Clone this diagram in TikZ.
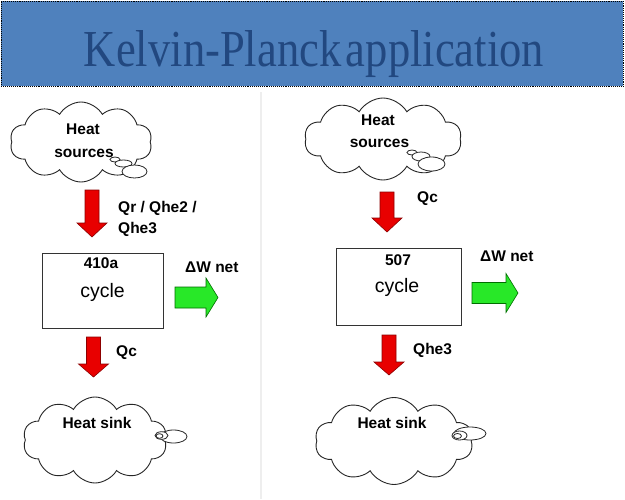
\documentclass[tikz,border=0pt]{standalone}
\usepackage{fontspec}
\setmainfont{Liberation Sans}
\newfontfamily\titlefont{Liberation Serif}
\usetikzlibrary{shapes.symbols}

\definecolor{barblue}{RGB}{79,129,189}
\definecolor{titleblue}{RGB}{34,72,128}
\definecolor{redfill}{RGB}{232,0,0}
\definecolor{redline}{RGB}{140,0,0}
\definecolor{greenfill}{RGB}{40,232,40}
\definecolor{greenline}{RGB}{0,110,0}
\definecolor{divgray}{RGB}{238,238,238}

\newcommand\blockdown[4]{% x, ytop, yhead, ytip
  \filldraw[redarrow] (#1-7,#2) -- (#1+7,#2) -- (#1+7,#3) -- (#1+15,#3) -- (#1,#4)
    -- (#1-15,#3) -- (#1-7,#3) -- cycle;}
\newcommand\blockright[4]{% xleft, xhead, xtip, y
  \filldraw[greenarrow] (#1,#4-10.5) -- (#2,#4-10.5) -- (#2,#4-19.5) -- (#3,#4)
    -- (#2,#4+19.5) -- (#2,#4+10.5) -- (#1,#4+10.5) -- cycle;}

\begin{document}
\begin{tikzpicture}[x=1pt,y=-1pt,
  lbl/.style={font=\fontsize{15.5}{18}\selectfont\bfseries, inner sep=0pt},
  cyc/.style={font=\fontsize{19.5}{22}\selectfont, inner sep=0pt},
  cloudshape/.style={cloud, cloud puffs=10, cloud puff arc=120, draw=black!85,
    line width=0.9pt, fill=white, inner sep=0pt},
  bub/.style={draw=black!85, line width=0.8pt, fill=white},
  cyclebox/.style={draw=black!80, line width=1pt, fill=white, inner sep=0pt},
  redarrow/.style={fill=redfill, draw=redline, line width=0.6pt},
  greenarrow/.style={fill=greenfill, draw=greenline, line width=0.6pt}]
\useasboundingbox (0,0) rectangle (625,499);
\fill[white] (0,0) rectangle (625,499);

% title bar
\node (bar) [draw=black, densely dotted, line width=0.9pt, fill=barblue,
  minimum width=622pt, minimum height=85pt, inner sep=0pt, anchor=north west] at (1,1) {};
\node (title) [anchor=base, inner sep=0pt, text=titleblue] at (314,66)
  {\resizebox{460pt}{36pt}{\titlefont Kelvin-Planck\kern1pt application}};

% divider
\draw[divgray, line width=2pt] (261,92) -- (261,499);

% ---------- left ----------
\node (srcL) [cloudshape, aspect=1.78, minimum width=142pt, minimum height=80pt] at (81,142) {};
\draw[bub] (115,159.5) ellipse (5 and 2.5);
\draw[bub] (123.5,163.5) ellipse (8.5 and 3.5);
\draw[bub] (134.5,171.5) ellipse (12.5 and 6.5);
\node (srcLa) [lbl, anchor=base] at (83,134) {Heat};
\node (srcLb) [lbl, anchor=base] at (84,157) {sources};

\blockdown{92}{190}{223}{237}
\node (qinL1) [lbl, anchor=base west] at (118,212) {Qr / Qhe2 /};
\node (qinL2) [lbl, anchor=base west] at (118,233) {Qhe3};

\node (boxL) [cyclebox, minimum width=121pt, minimum height=75pt] at (102.5,290.5) {};
\node (nameL) [lbl, anchor=base] at (101,268) {410a};
\node (cycL) [cyc, anchor=base] at (102.5,297) {cycle};

\node (wL) [lbl, anchor=base west] at (185,272) {ΔW net};
\blockright{175}{206}{218}{297.5}

\blockdown{93.5}{337}{364}{377}
\node (qoutL) [lbl, anchor=base west] at (116,356) {Qc};

\node (sinkL) [cloudshape, aspect=1.67, minimum width=144pt, minimum height=86pt] at (95,440) {};
\draw[bub] (173.5,436.5) ellipse (13.5 and 6.5);
\draw[bub] (161.5,435.5) ellipse (6.5 and 3.8);
\draw[bub] (159.5,436) ellipse (3.5 and 2.3);
\node (sinkLt) [lbl, anchor=base] at (97,428) {Heat sink};

% ---------- right ----------
\node (srcR) [cloudshape, aspect=1.9, minimum width=157pt, minimum height=82pt] at (383,139) {};
\draw[bub] (412,152.5) ellipse (5 and 2.5);
\draw[bub] (421,156.5) ellipse (9 and 4.5);
\draw[bub] (431.5,164) ellipse (13.5 and 7);
\node (srcRa) [lbl, anchor=base] at (378,125) {Heat};
\node (srcRb) [lbl, anchor=base] at (379.5,147) {sources};

\blockdown{387}{192}{218}{232}
\node (qinR) [lbl, anchor=base west] at (417,202) {Qc};

\node (boxR) [cyclebox, minimum width=125pt, minimum height=77pt] at (398.5,286.5) {};
\node (nameR) [lbl, anchor=base] at (398,265) {507};
\node (cycR) [cyc, anchor=base] at (397,292) {cycle};

\node (wR) [lbl, anchor=base west] at (480,261) {ΔW net};
\blockright{472}{506}{518}{293}

\blockdown{389}{335}{362}{375}
\node (qoutR) [lbl, anchor=base west] at (413,354) {Qhe3};

\node (sinkR) [cloudshape, aspect=1.8, minimum width=158pt, minimum height=87pt] at (394,441) {};
\draw[bub] (470,433.5) ellipse (16 and 6.5);
\draw[bub] (459.5,435.5) ellipse (7.5 and 4.5);
\draw[bub] (457.5,436) ellipse (4 and 2.5);
\node (sinkRt) [lbl, anchor=base] at (392,428) {Heat sink};
\end{tikzpicture}
\end{document}
